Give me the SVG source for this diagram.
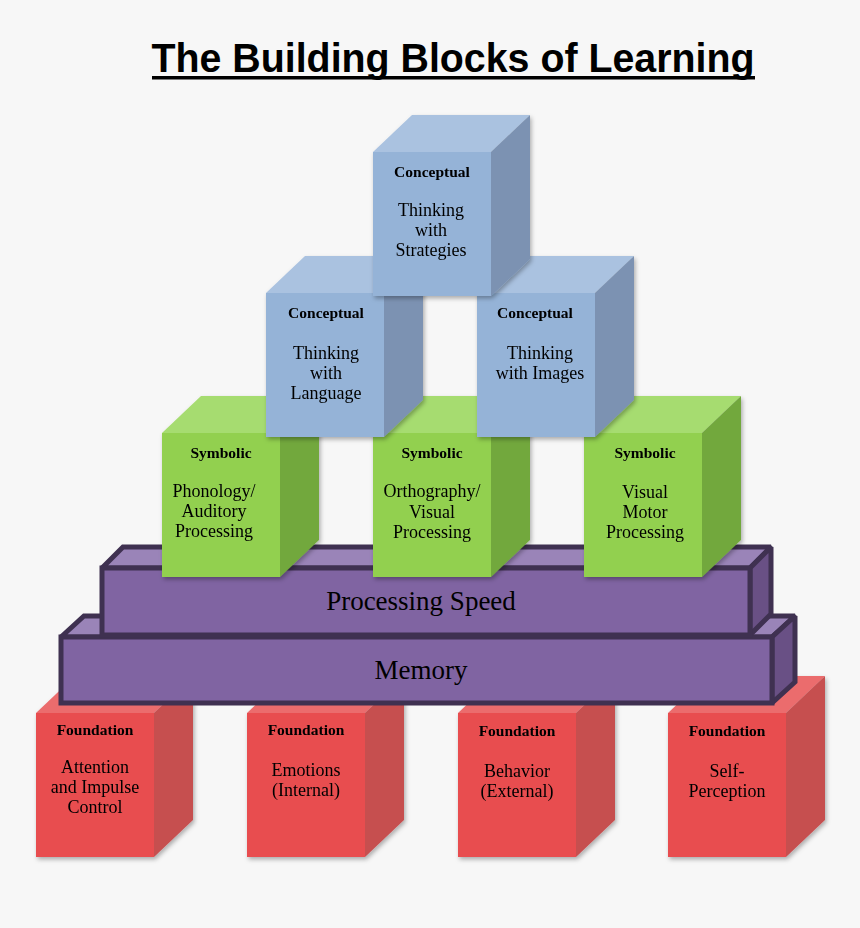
<svg xmlns="http://www.w3.org/2000/svg" width="860" height="928" viewBox="0 0 860 928">
<defs>
<filter id="sh" x="-20%" y="-20%" width="140%" height="140%">
<feDropShadow dx="1.5" dy="2.5" stdDeviation="2" flood-color="#000" flood-opacity="0.3"/>
</filter>
<style>
.bf{fill:#95B3D7}.bt{fill:#AAC2E0}.bs{fill:#7B92B2}
.gf{fill:#92D050}.gt{fill:#A6DC70}.gs{fill:#72A83E}
.rf{fill:#E84D50}.rt{fill:#EB6C6D}.rs{fill:#C64F50}
.pf{fill:#8064A2;stroke:#3F3151;stroke-width:5;stroke-linejoin:miter;stroke-miterlimit:1.5}
.pt{fill:#9A84B8;stroke:#3F3151;stroke-width:5;stroke-linejoin:miter;stroke-miterlimit:1.5}
.ps{fill:#695085;stroke:#3F3151;stroke-width:5;stroke-linejoin:miter;stroke-miterlimit:1.5}
.h{font-family:"Liberation Serif","Times New Roman",serif;font-weight:bold;font-size:15.5px;fill:#000;text-anchor:middle}
.b{font-family:"Liberation Serif","Times New Roman",serif;font-size:18px;fill:#000;text-anchor:middle}
.s{font-family:"Liberation Serif","Times New Roman",serif;font-size:27px;fill:#000;text-anchor:middle}
</style>
</defs>
<rect width="860" height="928" fill="#F7F7F7"/>
<g id="title">
<text x="453" y="72" font-family="Liberation Sans, Arial, sans-serif" font-weight="bold" font-size="40" text-anchor="middle" textLength="603" lengthAdjust="spacingAndGlyphs" fill="#000">The Building Blocks of Learning</text>
<rect x="152" y="76" width="603" height="3.5" fill="#000"/>
</g>
<!-- Foundation row -->
<g id="f1" filter="url(#sh)">
<polygon class="rt" points="36,713 75,676 193,676 154,713"/>
<polygon class="rs" points="154,713 193,676 193,820 154,857"/>
<rect class="rf" x="36" y="713" width="118" height="144"/>
<text class="h" x="95" y="735">Foundation</text>
<text class="b" x="95" y="773">Attention</text>
<text class="b" x="95" y="793">and Impulse</text>
<text class="b" x="95" y="813">Control</text>
</g>
<g id="f2" filter="url(#sh)">
<polygon class="rt" points="247,713 286,676 404,676 365,713"/>
<polygon class="rs" points="365,713 404,676 404,820 365,857"/>
<rect class="rf" x="247" y="713" width="118" height="144"/>
<text class="h" x="306" y="735">Foundation</text>
<text class="b" x="306" y="776">Emotions</text>
<text class="b" x="306" y="796">(Internal)</text>
</g>
<g id="f3" filter="url(#sh)">
<polygon class="rt" points="458,713 497,676 615,676 576,713"/>
<polygon class="rs" points="576,713 615,676 615,820 576,857"/>
<rect class="rf" x="458" y="713" width="118" height="144"/>
<text class="h" x="517" y="736">Foundation</text>
<text class="b" x="517" y="777">Behavior</text>
<text class="b" x="517" y="797">(External)</text>
</g>
<g id="f4" filter="url(#sh)">
<polygon class="rt" points="668,713 707,676 825,676 786,713"/>
<polygon class="rs" points="786,713 825,676 825,820 786,857"/>
<rect class="rf" x="668" y="713" width="118" height="144"/>
<text class="h" x="727" y="736">Foundation</text>
<text class="b" x="727" y="777">Self-</text>
<text class="b" x="727" y="797">Perception</text>
</g>
<!-- Memory slab -->
<g id="memory">
<polygon class="pt" points="61,637 84,616 795,616 772,637"/>
<polygon class="ps" points="772,637 795,616 795,682 772,703"/>
<rect class="pf" x="61" y="637" width="711" height="66"/>
<text class="s" x="421" y="679">Memory</text>
</g>
<!-- Processing speed slab -->
<g id="speed">
<polygon class="pt" points="102,568 123,547 771,547 750,568"/>
<polygon class="ps" points="750,568 771,547 771,614 750,635"/>
<rect class="pf" x="102" y="568" width="648" height="67"/>
<text class="s" x="421" y="610">Processing Speed</text>
</g>
<!-- Symbolic row -->
<g id="s1" filter="url(#sh)">
<polygon class="gt" points="162,433 201,396 319,396 280,433"/>
<polygon class="gs" points="280,433 319,396 319,540 280,577"/>
<rect class="gf" x="162" y="433" width="118" height="144"/>
<text class="h" x="221" y="458">Symbolic</text>
<text class="b" x="214" y="497">Phonology/</text>
<text class="b" x="214" y="517">Auditory</text>
<text class="b" x="214" y="537">Processing</text>
</g>
<g id="s2" filter="url(#sh)">
<polygon class="gt" points="373,433 412,396 530,396 491,433"/>
<polygon class="gs" points="491,433 530,396 530,540 491,577"/>
<rect class="gf" x="373" y="433" width="118" height="144"/>
<text class="h" x="432" y="458">Symbolic</text>
<text class="b" x="432" y="497">Orthography/</text>
<text class="b" x="432" y="518">Visual</text>
<text class="b" x="432" y="538">Processing</text>
</g>
<g id="s3" filter="url(#sh)">
<polygon class="gt" points="584,433 623,396 741,396 702,433"/>
<polygon class="gs" points="702,433 741,396 741,540 702,577"/>
<rect class="gf" x="584" y="433" width="118" height="144"/>
<text class="h" x="645" y="458">Symbolic</text>
<text class="b" x="645" y="498">Visual</text>
<text class="b" x="645" y="518">Motor</text>
<text class="b" x="645" y="538">Processing</text>
</g>
<!-- Conceptual row -->
<g id="c1" filter="url(#sh)">
<polygon class="bt" points="266,293 305,256 423,256 384,293"/>
<polygon class="bs" points="384,293 423,256 423,400 384,437"/>
<rect class="bf" x="266" y="293" width="118" height="144"/>
<text class="h" x="326" y="318">Conceptual</text>
<text class="b" x="326" y="359">Thinking</text>
<text class="b" x="326" y="379">with</text>
<text class="b" x="326" y="399">Language</text>
</g>
<g id="c2" filter="url(#sh)">
<polygon class="bt" points="477,293 516,256 634,256 595,293"/>
<polygon class="bs" points="595,293 634,256 634,400 595,437"/>
<rect class="bf" x="477" y="293" width="118" height="144"/>
<text class="h" x="535" y="318">Conceptual</text>
<text class="b" x="540" y="359">Thinking</text>
<text class="b" x="540" y="379">with Images</text>
</g>
<g id="c3" filter="url(#sh)">
<polygon class="bt" points="373,152 412,115 530,115 491,152"/>
<polygon class="bs" points="491,152 530,115 530,259 491,296"/>
<rect class="bf" x="373" y="152" width="118" height="144"/>
<text class="h" x="432" y="177">Conceptual</text>
<text class="b" x="431" y="216">Thinking</text>
<text class="b" x="431" y="236">with</text>
<text class="b" x="431" y="256">Strategies</text>
</g>
</svg>
